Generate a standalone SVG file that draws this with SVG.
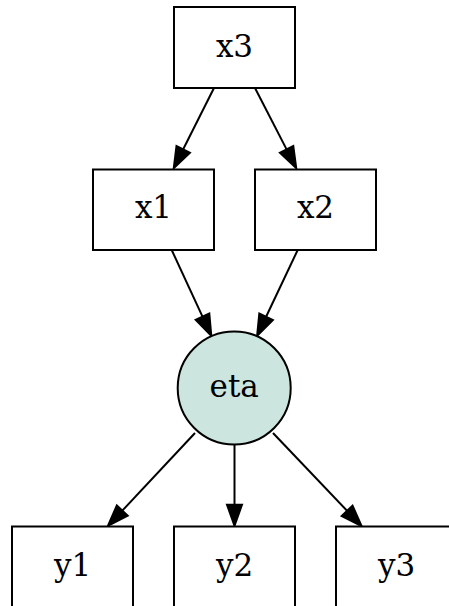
<svg xmlns="http://www.w3.org/2000/svg" width="449" height="606" viewBox="0 0 449 606">
<style>
.box{fill:#ffffff;stroke:#000000;stroke-width:2}
.circ{fill:#cce6df;stroke:#000000;stroke-width:2}
.lbl{font-family:"DejaVu Serif","Liberation Serif",serif;font-size:31px;fill:#000000;text-anchor:middle}
.edge{fill:none;stroke:#000000;stroke-width:2;marker-end:url(#arr)}
</style>
<defs>
<marker id="arr" viewBox="0 -10 24 20" markerWidth="24" markerHeight="20" refX="0" refY="0" orient="auto" markerUnits="userSpaceOnUse" overflow="visible">
<path d="M0,-7.5 L21,0 L0,7.5 z" fill="#000000" stroke="#000000" stroke-width="2"/>
</marker>
</defs>
<rect width="449" height="606" fill="#ffffff"/>
<g id="edges">
<path class="edge" d="M214,88 L183.2,149.3"/>
<path class="edge" d="M255,88 L286.6,149.4"/>
<path class="edge" d="M171.7,250 L202.5,316.7"/>
<path class="edge" d="M297.7,250 L266.1,316.8"/>
<path class="edge" d="M195,433 L122.3,510.6"/>
<path class="edge" d="M234.5,445 L234.5,504.7"/>
<path class="edge" d="M273,433 L347.1,510.8"/>
</g>
<g id="x3"><rect class="box" x="174" y="7" width="121" height="81"/><text class="lbl" x="234.5" y="57">x3</text></g>
<g id="x1"><rect class="box" x="93" y="169.5" width="121" height="80.5"/><text class="lbl" x="153.5" y="218">x1</text></g>
<g id="x2"><rect class="box" x="255" y="169.5" width="121" height="80.5"/><text class="lbl" x="315.5" y="218">x2</text></g>
<g id="eta"><circle class="circ" cx="234.2" cy="388" r="56.5"/><text class="lbl" x="234.2" y="396.5">eta</text></g>
<g id="y1"><rect class="box" x="12" y="526.5" width="121" height="81"/><text class="lbl" x="72.5" y="576">y1</text></g>
<g id="y2"><rect class="box" x="174" y="526.5" width="121" height="81"/><text class="lbl" x="234.5" y="576">y2</text></g>
<g id="y3"><rect class="box" x="336" y="526.5" width="121" height="81"/><text class="lbl" x="396.5" y="576">y3</text></g>
</svg>
